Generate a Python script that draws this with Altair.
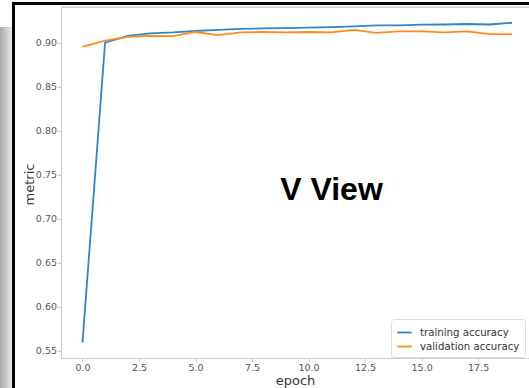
import altair as alt
import pandas as pd

epochs = list(range(20))
train_acc = [0.5595, 0.9003, 0.908, 0.911, 0.912, 0.9136, 0.915, 0.916, 0.9165, 0.917,
             0.9174, 0.918, 0.9189, 0.920, 0.920, 0.9208, 0.921, 0.9216, 0.921, 0.923]
val_acc = [0.8955, 0.9026, 0.907, 0.908, 0.9077, 0.9125, 0.909, 0.912, 0.9125, 0.912,
           0.9125, 0.912, 0.9148, 0.9114, 0.9133, 0.9133, 0.912, 0.9133, 0.910, 0.910]
series_names = ["training accuracy", "validation accuracy"]
series_colors = ["#2f86c8", "#ff8c1a"]
x_ticks = [0.0, 2.5, 5.0, 7.5, 10.0, 12.5, 15.0, 17.5]
y_ticks = [0.55, 0.60, 0.65, 0.70, 0.75, 0.80, 0.85, 0.90]
overlay_text = "V View"

rows = []
for e, t, v in zip(epochs, train_acc, val_acc):
    rows.append({"epoch": e, "metric": t, "series": series_names[0]})
    rows.append({"epoch": e, "metric": v, "series": series_names[1]})
df = pd.DataFrame(rows)
one = pd.DataFrame({"k": [0]})

W, H = 468, 351

lines = alt.Chart(df).mark_line(strokeWidth=1.8).encode(
    x=alt.X("epoch:Q", scale=alt.Scale(domain=[-0.95, 19.75], nice=False, zero=False),
            axis=alt.Axis(values=x_ticks, format=".1f", title="epoch", grid=False,
                          domainColor="#cccccc", tickColor="#cccccc", tickSize=3.5,
                          labelFontSize=9.5, labelColor="#555555", labelPadding=1,
                          labelFont="DejaVu Sans", titleFont="DejaVu Sans",
                          titleFontSize=13, titleFontWeight="normal", titleColor="#333333",
                          titleBaseline="alphabetic", titleY=26)),
    y=alt.Y("metric:Q", scale=alt.Scale(domain=[0.542, 0.9409], nice=False, zero=False),
            axis=alt.Axis(values=y_ticks, format=".2f", title="metric", grid=False,
                          domainColor="#cccccc", tickColor="#cccccc", tickSize=3.5,
                          labelFontSize=9.5, labelColor="#555555", labelPadding=1,
                          labelFont="DejaVu Sans", titleFont="DejaVu Sans",
                          titleFontSize=13, titleFontWeight="normal", titleColor="#333333",
                          titleAngle=-90, titleBaseline="alphabetic", titleAlign="center",
                          titleX=-28, titleY=177)),
    color=alt.Color("series:N", scale=alt.Scale(domain=series_names, range=series_colors),
                    legend=alt.Legend(title=None, orient="none", legendX=330, legendY=312,
                                      symbolType="stroke", symbolSize=210, symbolStrokeWidth=1.8,
                                      labelFontSize=10.2, labelFont="DejaVu Sans",
                                      labelColor="#333333", padding=5, rowPadding=0,
                                      labelOffset=7,
                                      strokeColor="#dddddd", fillColor="white",
                                      cornerRadius=3)),
)

top_spine = alt.Chart(one).mark_rule(color="#cccccc", strokeWidth=1).encode(
    x=alt.value(0), x2=alt.value(W), y=alt.value(0)
)

gray_strip = alt.Chart(one).mark_rect(
    color=alt.LinearGradient(
        gradient="linear",
        stops=[alt.GradientStop(color="#aaaaaa", offset=0),
               alt.GradientStop(color="#e8e8e8", offset=1)],
        x1=0, x2=1, y1=0, y2=0),
).encode(x=alt.value(-61), x2=alt.value(-49), y=alt.value(20), y2=alt.value(H + 30))

frame_v = alt.Chart(one).mark_rect(color="black").encode(
    x=alt.value(-49), x2=alt.value(-46), y=alt.value(-5), y2=alt.value(H + 30)
)
frame_h = alt.Chart(one).mark_rect(color="black").encode(
    x=alt.value(-49), x2=alt.value(W), y=alt.value(-5), y2=alt.value(-2)
)

label = alt.Chart(one).mark_text(
    text=overlay_text, font="Liberation Sans", fontWeight="bold", fontSize=32,
    color="black", align="center", baseline="alphabetic"
).encode(x=alt.value(270.5), y=alt.value(193))

chart = alt.layer(gray_strip, frame_v, frame_h, top_spine, lines, label).properties(
    width=W, height=H,
    autosize=alt.AutoSizeParams(type="none"),
    padding={"left": 61, "top": 7, "right": 0, "bottom": 30},
).configure_view(stroke=None).configure(background="white")

chart.save("out.html", embed_options={"renderer": "svg", "actions": False})
